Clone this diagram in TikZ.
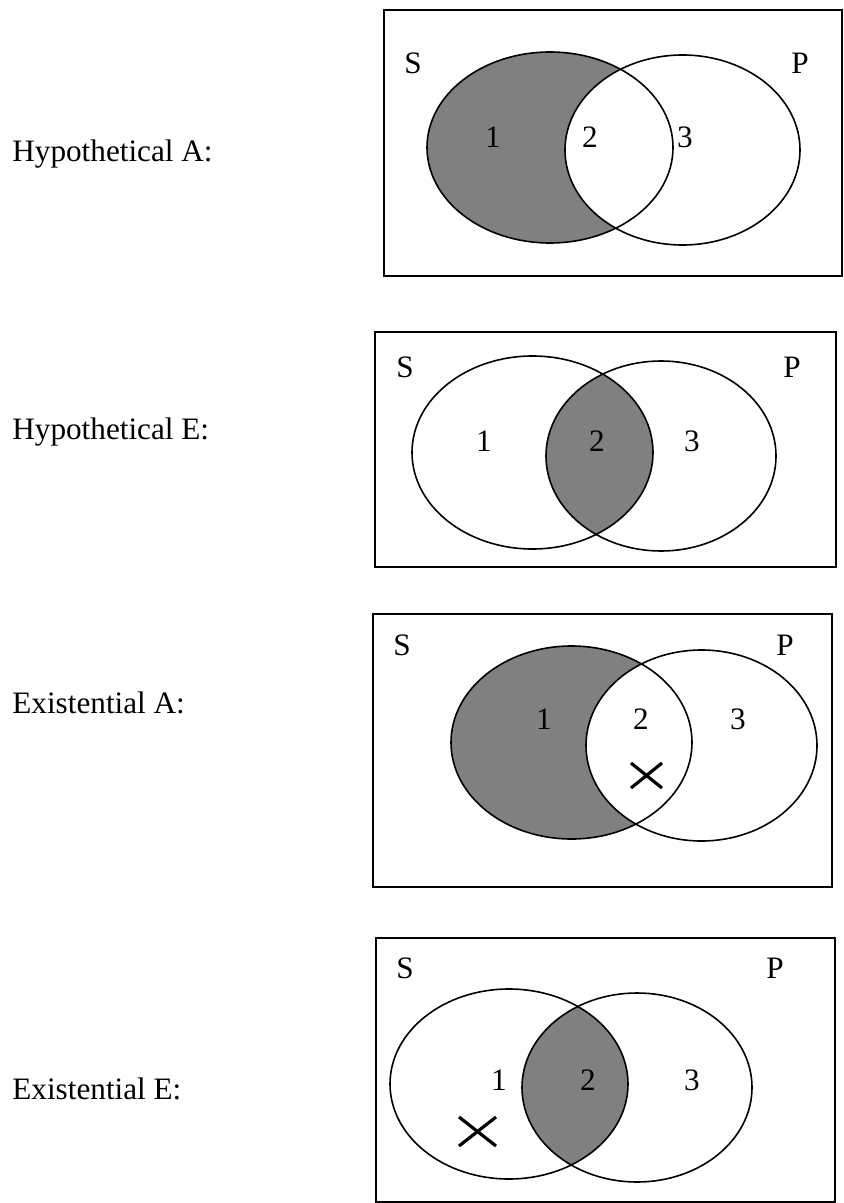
\documentclass[tikz,border=0pt]{standalone}
\usepackage{fontspec}
\setmainfont{Liberation Serif}
\usetikzlibrary{positioning}

\begin{document}
\begin{tikzpicture}[
        x=0.5pt, y=-0.5pt,
        every node/.style={font=\fontsize{15.6}{18}\selectfont, inner sep=0pt},
        frame/.style={draw, line width=0.8pt},
        ring/.style={draw, line width=0.8pt},
        shaded/.style={fill=black!50},
        cross/.style={line width=1.6pt},
        side/.style={anchor=base west},
    ]
        \useasboundingbox (0,0) rectangle (843,1203);

        % Hypothetical A
        \node[side] (hypA) at (12,162) {Hypothetical A:};
        \draw[frame] (384,10) rectangle (842,276);
        \fill[shaded] (550,147.5) ellipse [x radius=123, y radius=95.5];
        \fill[white] (682.5,150) ellipse [x radius=117.5, y radius=95];
        \draw[ring] (550,147.5) ellipse [x radius=123, y radius=95.5];
        \draw[ring] (682.5,150) ellipse [x radius=117.5, y radius=95];
        \node (sA) at (413,63) {S};
        \node (pA) at (800,63) {P};
        \node (oneA) at (493,137) {1};
        \node (twoA) at (590,137) {2};
        \node (threeA) at (685,137) {3};

        % Hypothetical E
        \node[side] (hypE) at (12,439) {Hypothetical E:};
        \draw[frame] (375,332) rectangle (836,567);
        \begin{scope}
            \clip (532.5,452.5) ellipse [x radius=120.5, y radius=96.5];
            \fill[shaded] (661,456) ellipse [x radius=115, y radius=95];
        \end{scope}
        \draw[ring] (532.5,452.5) ellipse [x radius=120.5, y radius=96.5];
        \draw[ring] (661,456) ellipse [x radius=115, y radius=95];
        \node (sE) at (405,367) {S};
        \node (pE) at (792,367) {P};
        \node (oneE) at (484,441) {1};
        \node (twoE) at (597,441) {2};
        \node (threeE) at (692,441) {3};

        % Existential A
        \node[side] (exA) at (12,713) {Existential A:};
        \draw[frame] (373,614) rectangle (832,887);
        \fill[shaded] (571.5,742.5) ellipse [x radius=120.5, y radius=96.5];
        \fill[white] (701.5,745.5) ellipse [x radius=115.5, y radius=95.5];
        \draw[ring] (571.5,742.5) ellipse [x radius=120.5, y radius=96.5];
        \draw[ring] (701.5,745.5) ellipse [x radius=115.5, y radius=95.5];
        \node (sX) at (402,645) {S};
        \node (pX) at (785,645) {P};
        \node (oneX) at (544,719) {1};
        \node (twoX) at (641,719) {2};
        \node (threeX) at (738,719) {3};
        \draw[cross] (631,763) -- (662,788) (631,788) -- (662,763);

        % Existential E
        \node[side] (exE) at (12,1099) {Existential E:};
        \draw[frame] (376,938) rectangle (835,1202);
        \begin{scope}
            \clip (509,1084) ellipse [x radius=119, y radius=95];
            \fill[shaded] (637,1087.5) ellipse [x radius=115, y radius=94.5];
        \end{scope}
        \draw[ring] (509,1084) ellipse [x radius=119, y radius=95];
        \draw[ring] (637,1087.5) ellipse [x radius=115, y radius=94.5];
        \node (sY) at (405,968) {S};
        \node (pY) at (775,968) {P};
        \node (oneY) at (499,1080) {1};
        \node (twoY) at (588,1080) {2};
        \node (threeY) at (692,1080) {3};
        \draw[cross] (459,1117) -- (496,1146) (459,1146) -- (496,1117);
    \end{tikzpicture}
\end{document}
